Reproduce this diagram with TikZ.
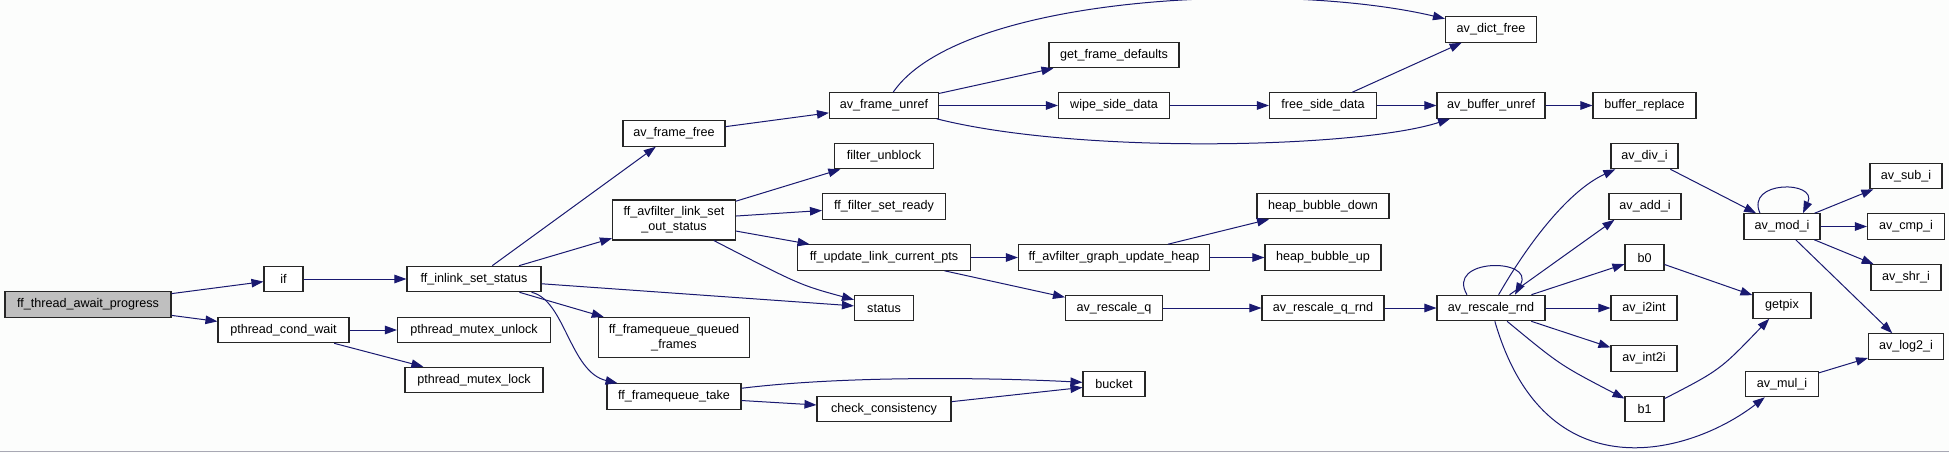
\documentclass[tikz,border=0pt]{standalone}
\usepackage{fontspec}
\setmainfont{Liberation Sans}
\usetikzlibrary{arrows.meta}
\definecolor{edgeblue}{HTML}{191970}
\definecolor{rootgray}{HTML}{BFBFBF}
\definecolor{pagebg}{HTML}{FCFDFC}
\definecolor{rulegray}{HTML}{A8A8B4}
\newcommand{\fnfont}{\fontsize{12.6}{15}\selectfont}
\tikzset{
  >={Triangle[length=12pt,width=8.5pt]},
  fn/.style={
    draw=black!85, line width=1.1pt, fill=white, align=center,
    inner sep=0pt, font=\fnfont, minimum height=25.5pt
  },
  rootfn/.style={fn, fill=rootgray},
  call/.style={->, draw=edgeblue, line width=1pt},
}
\begin{document}
\begin{tikzpicture}[x=1pt, y=-1pt]
  \useasboundingbox (0,0) rectangle (1949,453);
  \fill[pagebg] (0,0) rectangle (1949,453);
  \draw[rulegray, line width=1.5pt] (0,451.5) -- (1949,451.5);

  % callers side
  \node[rootfn, minimum width=166pt] (await) at (88,304.5) {ff\_thread\_await\_progress};
  \node[fn, minimum width=39pt] (ifn) at (283.5,279) {if};
  \node[fn, minimum width=131pt] (condwait) at (283.5,330) {pthread\_cond\_wait};
  \node[fn, minimum width=134pt] (inlink) at (474,279) {ff\_inlink\_set\_status};
  \node[fn, minimum width=153pt] (unlock) at (474,330) {pthread\_mutex\_unlock};
  \node[fn, minimum width=138pt] (lock) at (474,380) {pthread\_mutex\_lock};

  \node[fn, minimum width=102pt] (framefree) at (674,133.5) {av\_frame\_free};
  \node[fn, minimum width=123pt, minimum height=40pt] (setout) at (674,220) {ff\_avfilter\_link\_set\\\_out\_status};
  \node[fn, minimum width=151pt, minimum height=40pt] (queued) at (674,337.5) {ff\_framequeue\_queued\\\_frames};
  \node[fn, minimum width=134pt] (take) at (674,396.5) {ff\_framequeue\_take};

  \node[fn, minimum width=109pt] (unref) at (884,105.5) {av\_frame\_unref};
  \node[fn, minimum width=99pt] (unblock) at (884,156) {filter\_unblock};
  \node[fn, minimum width=123pt] (setready) at (884,206.5) {ff\_filter\_set\_ready};
  \node[fn, minimum width=173pt] (updpts) at (884,257.5) {ff\_update\_link\_current\_pts};
  \node[fn, minimum width=59pt] (status) at (884,308) {status};
  \node[fn, minimum width=134pt] (check) at (884,409) {check\_consistency};

  \node[fn, minimum width=130pt] (defaults) at (1114,55) {get\_frame\_defaults};
  \node[fn, minimum width=111pt] (wipe) at (1114,105.5) {wipe\_side\_data};
  \node[fn, minimum width=191pt] (updheap) at (1114,257.5) {ff\_avfilter\_graph\_update\_heap};
  \node[fn, minimum width=97pt] (rescaleq) at (1114,308) {av\_rescale\_q};
  \node[fn, minimum width=62pt] (bucket) at (1114,384) {bucket};

  \node[fn, minimum width=107pt] (freeside) at (1323,105.5) {free\_side\_data};
  \node[fn, minimum width=132pt] (bubdown) at (1323,206) {heap\_bubble\_down};
  \node[fn, minimum width=116pt] (bubup) at (1323,257.5) {heap\_bubble\_up};
  \node[fn, minimum width=122pt] (qrnd) at (1323,308) {av\_rescale\_q\_rnd};

  \node[fn, minimum width=91pt] (dictfree) at (1491,29.5) {av\_dict\_free};
  \node[fn, minimum width=108pt] (bufunref) at (1491,105.5) {av\_buffer\_unref};
  \node[fn, minimum width=108pt] (rnd) at (1491,308) {av\_rescale\_rnd};

  \node[fn, minimum width=103pt] (replace) at (1644.5,105.5) {buffer\_replace};
  \node[fn, minimum width=67pt] (divi) at (1644.5,156) {av\_div\_i};
  \node[fn, minimum width=72pt] (addi) at (1645,206.5) {av\_add\_i};
  \node[fn, minimum width=39pt] (bzero) at (1644.5,257.5) {b0};
  \node[fn, minimum width=66pt] (i2int) at (1644,308) {av\_i2int};
  \node[fn, minimum width=66pt] (int2i) at (1644,358.5) {av\_int2i};
  \node[fn, minimum width=39pt] (bone) at (1644.5,409) {b1};

  \node[fn, minimum width=76pt] (modi) at (1782,226.5) {av\_mod\_i};
  \node[fn, minimum width=58pt] (getpix) at (1782,305.5) {getpix};
  \node[fn, minimum width=73pt] (muli) at (1782,384) {av\_mul\_i};

  \node[fn, minimum width=72pt] (subi) at (1906,176) {av\_sub\_i};
  \node[fn, minimum width=77pt] (cmpi) at (1906,226.5) {av\_cmp\_i};
  \node[fn, minimum width=70pt] (shri) at (1906,277.5) {av\_shr\_i};
  \node[fn, minimum width=75pt] (logi) at (1906,346.5) {av\_log2\_i};

  % calls
  \draw[call] (await) -- (ifn);
  \draw[call] (await) -- (condwait);
  \draw[call] (ifn) -- (inlink);
  \draw[call] (condwait) -- (unlock);
  \draw[call] (condwait) -- (lock);

  \draw[call] (inlink) -- (framefree);
  \draw[call] (inlink) -- (setout);
  \draw[call] (inlink) -- (status);
  \draw[call] (inlink) -- (queued);
  \draw[call] (inlink) .. controls (565,300) and (570,372) .. (take);

  \draw[call] (framefree) -- (unref);
  \draw[call] (unref) .. controls (960,-5) and (1280,-20) .. (dictfree);
  \draw[call] (unref) -- (defaults);
  \draw[call] (unref) -- (wipe);
  \draw[call] (unref) .. controls (1080,155) and (1360,148) .. (bufunref);
  \draw[call] (wipe) -- (freeside);
  \draw[call] (freeside) -- (dictfree);
  \draw[call] (freeside) -- (bufunref);
  \draw[call] (bufunref) -- (replace);

  \draw[call] (setout) -- (unblock);
  \draw[call] (setout) -- (setready);
  \draw[call] (setout) -- (updpts);
  \draw[call] (setout) .. controls (800,285) .. (status);
  \draw[call] (updpts) -- (updheap);
  \draw[call] (updpts) -- (rescaleq);
  \draw[call] (updheap) -- (bubdown);
  \draw[call] (updheap) -- (bubup);
  \draw[call] (rescaleq) -- (qrnd);
  \draw[call] (qrnd) -- (rnd);

  \draw[call] (take) .. controls (850,375) and (1000,378) .. (bucket);
  \draw[call] (take) -- (check);
  \draw[call] (check) -- (bucket);

  \draw[call] ([xshift=-24pt]rnd.north) .. controls +(-22,-37) and +(20,-37) .. ([xshift=24pt]rnd.north);
  \draw[call] (rnd) .. controls (1530,240) and (1570,190) .. (divi);
  \draw[call] (rnd) -- ([xshift=6pt]addi.south west);
  \draw[call] (rnd) -- (bzero);
  \draw[call] (rnd) -- (i2int);
  \draw[call] (rnd) -- (int2i);
  \draw[call] (rnd) .. controls (1560,365) .. (bone);
  \draw[call] (rnd) .. controls (1545,495) and (1690,455) .. (muli);

  \draw[call] (divi) -- (modi);
  \draw[call] ([xshift=-22pt]modi.north) .. controls +(-15,-33) and +(15,-33) .. ([xshift=21pt]modi.north);
  \draw[call] (modi) -- (subi);
  \draw[call] (modi) -- (cmpi);
  \draw[call] (modi) -- (shri);
  \draw[call] (modi) -- (logi);
  \draw[call] (bzero) -- (getpix);
  \draw[call] (bone) .. controls (1720,370) .. (getpix);
  \draw[call] (muli) -- (logi);
\end{tikzpicture}
\end{document}
